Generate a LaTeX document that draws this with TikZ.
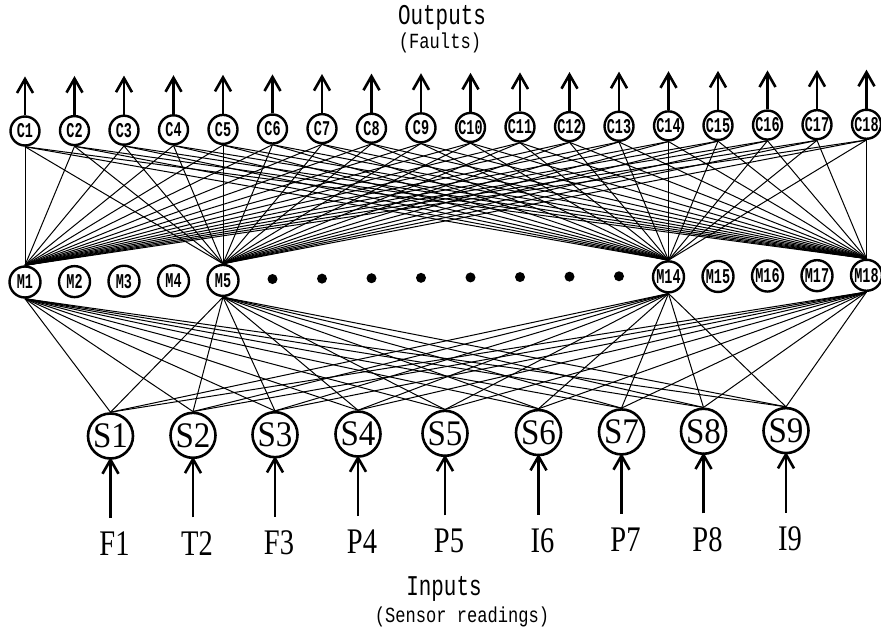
\documentclass[tikz,border=0pt]{standalone}
\usepackage{fontspec}
\setmainfont{Liberation Serif}
\newfontfamily\monof{Liberation Mono}
\begin{document}
\begin{tikzpicture}[x=1pt,y=-1pt,
  cnode/.style={circle,draw,line width=2.4pt,minimum size=29pt,inner sep=0pt,
    font=\monof\bfseries\fontsize{15}{15}\selectfont},
  mnode/.style={cnode,minimum size=31pt},
  snode/.style={circle,draw,line width=2.6pt,minimum size=45pt,inner sep=0pt,
    font=\fontsize{30}{30}\selectfont},
  inlabel/.style={font=\fontsize{30}{30}\selectfont,inner sep=0pt},
  title/.style={font=\monof\fontsize{22}{22}\selectfont,inner sep=0pt},
  subtitle/.style={font=\monof\fontsize{18}{18}\selectfont,inner sep=0pt},
  link/.style={line width=1pt},
  shaft/.style={line width=2.8pt},
  barb/.style={line width=2.6pt,line join=miter},
  dot/.style={circle,fill,inner sep=0pt,minimum size=10pt}
]
\useasboundingbox (0,0) rectangle (881,632);

% C row
\foreach \i in {1,...,18} {
  \pgfmathsetmacro\cx{25+(\i-1)*49.5}
  \pgfmathsetmacro\cy{131-0.008*(\cx-25)}
  \node[cnode] (C\i) at (\cx,\cy) {\makebox[0pt]{\scalebox{0.9}[1.4]{C\i}}};
  \coordinate (Ct\i) at (\cx,\cy-52);
  \draw[shaft] (C\i.north) -- (Ct\i);
  \draw[barb] ([shift={(-8,14)}]Ct\i) -- (Ct\i) -- ([shift={(8,14)}]Ct\i);
}

% M row
\foreach \i in {1,2,3,4,5,14,15,16,17,18} {
  \pgfmathsetmacro\mx{25+(\i-1)*49.5}
  \pgfmathsetmacro\my{282-0.008*(\mx-25)}
  \node[mnode] (M\i) at (\mx,\my) {\makebox[0pt]{\scalebox{0.9}[1.4]{M\i}}};
}
\foreach \i in {6,...,13} {
  \pgfmathsetmacro\mx{25+(\i-1)*49.5}
  \pgfmathsetmacro\my{281-0.008*(\mx-25)}
  \node[dot] (D\i) at (\mx,\my) {};
}

% S row and inputs
\foreach \x/\l [count=\j] in {110.5/F1,193/T2,275/F3,358/P4,445/P5,538.5/I6,621.5/P7,703.5/P8,786/I9} {
  \pgfmathsetmacro\sy{436-0.008*(\x-110)}
  \node[snode] (S\j) at (\x,\sy) {\makebox[0pt]{\scalebox{1.1}[1.2]{S\j}}};
  \coordinate (In\j) at (\x,\sy+82);
  \draw[shaft] (In\j) -- (S\j.south);
  \draw[barb] ([shift={(-8,14)}]S\j.south) -- (S\j.south) -- ([shift={(8,14)}]S\j.south);
  \node[inlabel] (L\j) at (\x+4,\sy+108) {\scalebox{0.95}[1.2]{\l}};
}

% links
\foreach \m in {1,5,14,18} {
  \foreach \i in {1,...,18} { \draw[link] (C\i.south) -- (M\m.north); }
  \foreach \j in {1,...,9} { \draw[link] (M\m.south) -- (S\j.north); }
}

% titles
\node[title] (out) at (442,18) {\scalebox{0.95}[1.3]{Outputs}};
\node[subtitle] (outs) at (440,43) {\scalebox{0.95}[1.2]{(Faults)}};
\node[title] (inp) at (444,589) {\scalebox{0.95}[1.3]{Inputs}};
\node[subtitle] (inps) at (462,617) {\scalebox{0.95}[1.2]{(Sensor readings)}};
\end{tikzpicture}
\end{document}
